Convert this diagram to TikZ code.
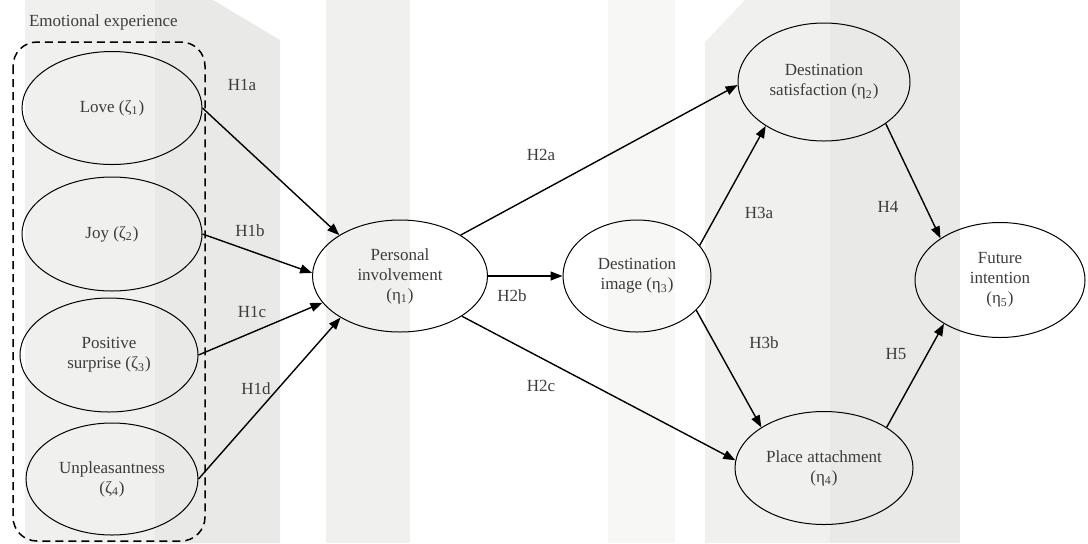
\documentclass[tikz,border=0pt]{standalone}
\usepackage{fontspec}
\setmainfont{Liberation Serif}
\usetikzlibrary{arrows.meta,shapes.geometric}
\definecolor{bandlight}{RGB}{240,240,238}
\definecolor{banddark}{RGB}{233,233,231}
\definecolor{bandpale}{RGB}{247,247,246}
\definecolor{inkgray}{RGB}{60,60,60}
\newcommand{\sub}[1]{\textsubscript{#1}}

\begin{document}
\begin{tikzpicture}[x=0.5pt,y=-0.5pt,
    latent/.style={draw,ellipse,line width=0.5pt,inner sep=0pt,align=center,text=inkgray,font=\fontsize{8.5}{10}\selectfont},
    hyp/.style={text=inkgray,font=\fontsize{8.5}{10}\selectfont},
    arr/.style={-{Triangle[length=6pt,width=4.5pt]},line width=0.7pt}]
    \useasboundingbox (0,0) rectangle (1088,543);
    % background bands
    \fill[bandlight] (25,0) rectangle (155,543);
    \fill[banddark] (155,0) -- (213,0) -- (280,40) -- (280,543) -- (155,543) -- cycle;
    \fill[bandlight] (326,0) rectangle (410,543);
    \fill[bandpale] (608,0) rectangle (675,543);
    \fill[bandlight] (705,42) -- (745,0) -- (830,0) -- (830,543) -- (705,543) -- cycle;
    \fill[banddark] (830,0) rectangle (960,543);
    % emotional experience
    \node[hyp,anchor=west] (title) at (22,22) {Emotional experience};
    \draw[dashed,dash pattern=on 4pt off 2.5pt,line width=0.75pt,rounded corners=12pt] (13,42) rectangle (205,541);
    \node[latent,minimum width=90pt,minimum height=56.5pt] (love) at (112,108) {Love (ζ\sub{1})};
    \node[latent,minimum width=90pt,minimum height=57pt] (joy) at (112,234) {Joy (ζ\sub{2})};
    \node[latent,minimum width=89pt,minimum height=57pt] (surprise) at (109,355) {Positive\\surprise (ζ\sub{3})};
    \node[latent,minimum width=86pt,minimum height=56pt] (unpleasant) at (112,479) {Unpleasantness\\(ζ\sub{4})};
    % constructs
    \node[latent,minimum width=87.5pt,minimum height=56pt] (involve) at (400,276) {Personal\\involvement\\(η\sub{1})};
    \node[latent,minimum width=74pt,minimum height=56pt] (image) at (637,276) {Destination\\image (η\sub{3})};
    \node[latent,minimum width=86pt,minimum height=59pt] (satisfy) at (824,82) {Destination\\satisfaction (η\sub{2})};
    \node[latent,minimum width=89pt,minimum height=56.5pt] (attach) at (824,468) {Place attachment\\(η\sub{4})};
    \node[latent,minimum width=85pt,minimum height=57.5pt] (future) at (1000,280) {Future\\intention\\(η\sub{5})};
    % paths
    \draw[arr] (love.east) -- (involve.146);
    \draw[arr] (joy.east) -- (involve.178);
    \draw[arr] (surprise.east) -- (involve.199);
    \draw[arr] (unpleasant.east) -- (involve.215);
    \draw[arr] (involve.34) -- (satisfy.182);
    \draw[arr] (involve.east) -- (image.west);
    \draw[arr] (involve.327) -- (attach.175);
    \draw[arr] (image.26) -- (satisfy.217);
    \draw[arr] (image.330) -- (attach.147);
    \draw[arr] (satisfy.326) -- (future.145);
    \draw[arr] (attach.33) -- (future.218);
    % hypothesis labels
    \node[hyp] (h1a) at (242,85) {H1a};
    \node[hyp] (h1b) at (250,231) {H1b};
    \node[hyp] (h1c) at (252,312) {H1c};
    \node[hyp] (h1d) at (256,389) {H1d};
    \node[hyp] (h2a) at (541,155) {H2a};
    \node[hyp] (h2b) at (512,296) {H2b};
    \node[hyp] (h2c) at (541,386) {H2c};
    \node[hyp] (h3a) at (759,213) {H3a};
    \node[hyp] (h3b) at (764,343) {H3b};
    \node[hyp] (h4) at (888,207) {H4};
    \node[hyp] (h5) at (896,354) {H5};
\end{tikzpicture}
\end{document}
